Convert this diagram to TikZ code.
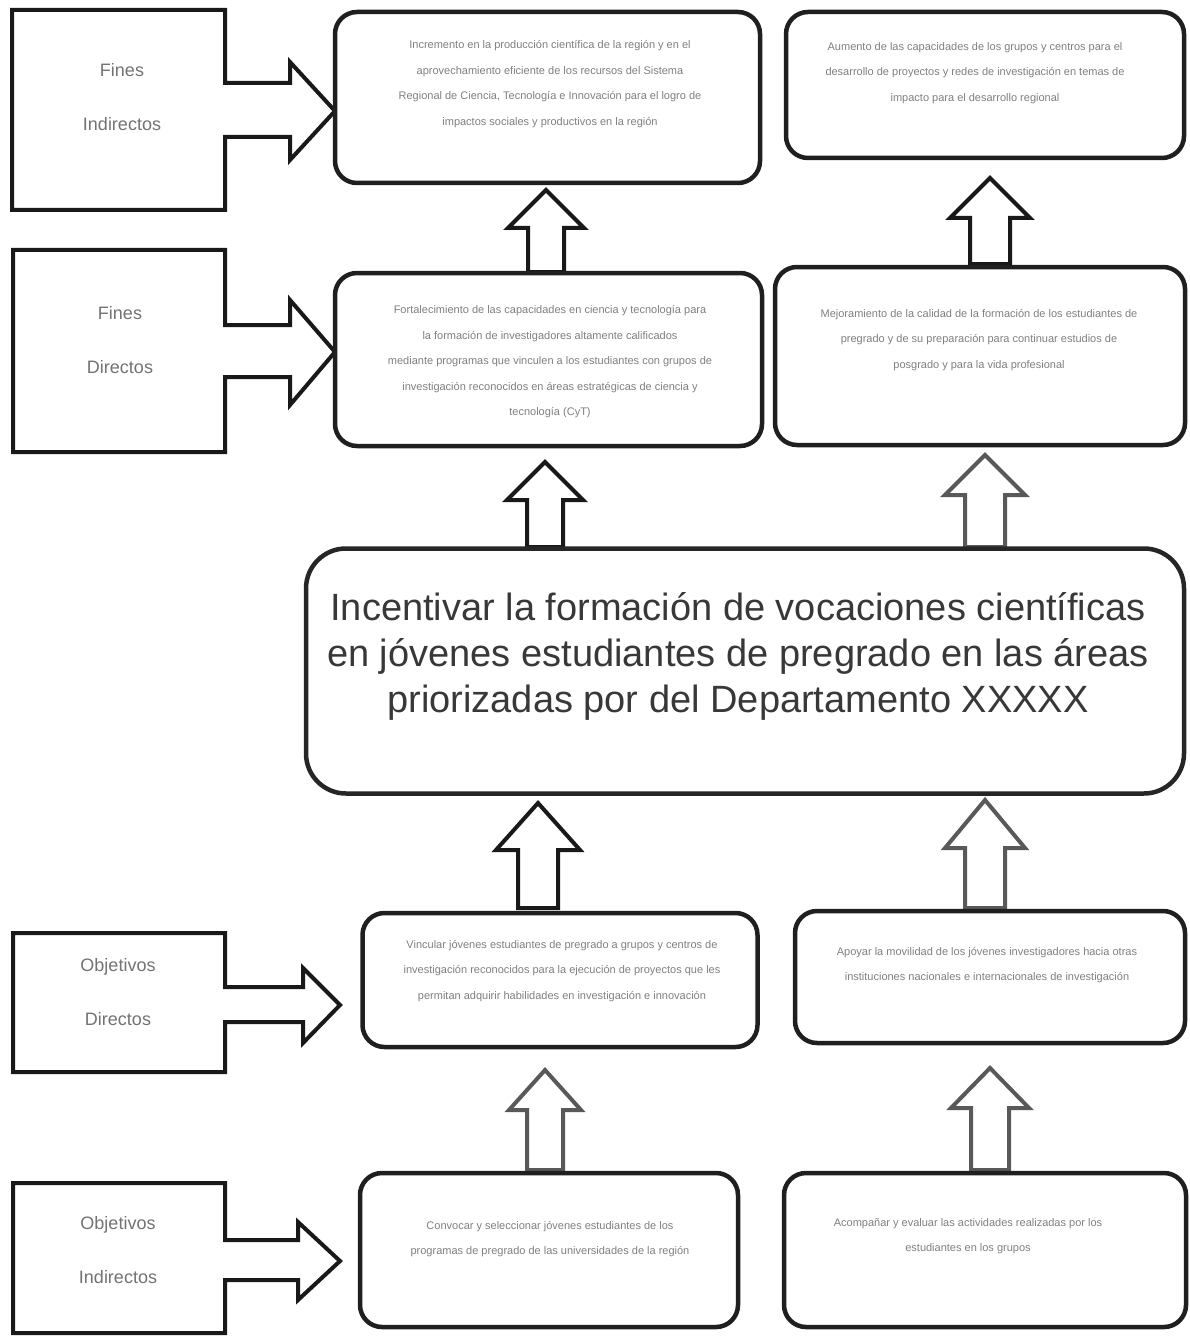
\documentclass[tikz,border=0pt]{standalone}
\usepackage{fontspec}
\setmainfont{Liberation Sans}
\begin{document}
\begin{tikzpicture}[x=1pt,y=-1pt,
  rbox/.style={draw=black!88, line width=4.5pt, rounded corners=22pt, fill=white},
  cbox/.style={draw=black!85, line width=4.5pt, rounded corners=40pt, fill=white},
  txt/.style={font=\fontsize{11}{25.5}\selectfont, text=black!50, align=center, inner sep=0pt},
  lab/.style={font=\fontsize{18}{54}\selectfont, text=black!55, align=center, inner sep=0pt},
  outl/.style={draw=black!90, line width=4pt, line join=miter, fill=white},
  upa/.style={draw=black!90, line width=4pt, line join=miter, fill=white},
  upg/.style={upa, draw=black!65}]
\useasboundingbox (0,0) rectangle (1189,1340);

% ---------- left labels with block arrows ----------
\draw[outl] (12,10) -- (225,10) -- (225,83) -- (290,83) -- (290,62) -- (335,111) -- (290,160) -- (290,137) -- (225,137) -- (225,210) -- (12,210) -- cycle;
\node[lab] (l1) at (122,97) {Fines\\Indirectos};

\draw[outl] (13,250) -- (225,250) -- (225,325) -- (290,325) -- (290,300) -- (335,352) -- (290,405) -- (290,377) -- (225,377) -- (225,452) -- (13,452) -- cycle;
\node[lab] (l2) at (120,340) {Fines\\Directos};

\draw[outl] (13,933) -- (225,933) -- (225,987) -- (303,987) -- (303,968) -- (340,1005) -- (303,1043) -- (303,1022) -- (225,1022) -- (225,1072) -- (13,1072) -- cycle;
\node[lab] (l3) at (118,992) {Objetivos\\Directos};

\draw[outl] (13,1183) -- (225,1183) -- (225,1240) -- (298,1240) -- (298,1222) -- (340,1261) -- (298,1300) -- (298,1280) -- (225,1280) -- (225,1333) -- (13,1333) -- cycle;
\node[lab] (l4) at (118,1250) {Objetivos\\Indirectos};

% ---------- up block arrows ----------
\newcommand\uparrowshape[7]{% style, cx, tipy, basey, bottomy, headhalf, shafthalf
  \draw[#1] (#2,#3) -- (#2+#6,#4) -- (#2+#7,#4) -- (#2+#7,#5) -- (#2-#7,#5) -- (#2-#7,#4) -- (#2-#6,#4) -- cycle;}
\uparrowshape{upa}{546}{190}{228}{272}{38}{18}
\uparrowshape{upa}{990}{178}{218}{264}{40}{20}
\uparrowshape{upa}{545}{462}{500}{547}{38}{18}
\uparrowshape{upg}{985}{455}{495}{547}{40}{20}
\uparrowshape{upa}{538}{803}{850}{908}{42}{20}
\uparrowshape{upg}{985}{800}{848}{908}{40}{20}
\uparrowshape{upg}{545}{1070}{1110}{1170}{36}{18}
\uparrowshape{upg}{990}{1068}{1108}{1170}{39}{19}

% ---------- boxes ----------
\node[rbox, minimum width=425pt, minimum height=171pt] (b1) at (547.5,97.5) {};
\node[rbox, minimum width=398pt, minimum height=146pt] (b2) at (985,85) {};
\node[rbox, minimum width=427pt, minimum height=173pt] (b3) at (548.5,359.5) {};
\node[rbox, minimum width=410pt, minimum height=178pt] (b4) at (980,356) {};
\node[cbox, minimum width=878pt, minimum height=245pt] (c) at (745,671) {};
\node[rbox, minimum width=395pt, minimum height=134pt] (b5) at (560,980) {};
\node[rbox, minimum width=390pt, minimum height=132pt] (b6) at (990,977) {};
\node[rbox, minimum width=378pt, minimum height=154pt] (b7) at (549,1250) {};
\node[rbox, minimum width=402pt, minimum height=154pt] (b8) at (985,1250) {};

% ---------- texts ----------
\node[txt] (t1) at (550,84) {Incremento en la producción científica de la región y en el\\aprovechamiento eficiente de los recursos del Sistema\\Regional de Ciencia, Tecnología e Innovación para el logro de\\impactos sociales y productivos en la región};
\node[txt] (t2) at (975,73) {Aumento de las capacidades de los grupos y centros para el\\desarrollo de proyectos y redes de investigación en temas de\\impacto para el desarrollo regional};
\node[txt] (t3) at (550,362) {Fortalecimiento de las capacidades en ciencia y tecnología para\\la formación de investigadores altamente calificados\\mediante programas que vinculen a los estudiantes con grupos de\\investigación reconocidos en áreas estratégicas de ciencia y\\tecnología (CyT)};
\node[txt] (t4) at (979,340) {Mejoramiento de la calidad de la formación de los estudiantes de\\pregrado y de su preparación para continuar estudios de\\posgrado y para la vida profesional};
\node[font=\fontsize{38}{46}\selectfont, text=black!78, align=center, inner sep=0pt] (tc) at (738,656) {Incentivar la formación de vocaciones científicas\\en jóvenes estudiantes de pregrado en las áreas\\priorizadas por del Departamento XXXXX};
\node[txt] (t5) at (562,971) {Vincular jóvenes estudiantes de pregrado a grupos y centros de\\investigación reconocidos para la ejecución de proyectos que les\\permitan adquirir habilidades en investigación e innovación};
\node[txt] (t6) at (987,965) {Apoyar la movilidad de los jóvenes investigadores hacia otras\\instituciones nacionales e internacionales de investigación};
\node[txt] (t7) at (550,1239) {Convocar y seleccionar jóvenes estudiantes de los\\programas de pregrado de las universidades de la región};
\node[txt] (t8) at (968,1236) {Acompañar y evaluar las actividades realizadas por los\\estudiantes en los grupos};
\end{tikzpicture}
\end{document}
